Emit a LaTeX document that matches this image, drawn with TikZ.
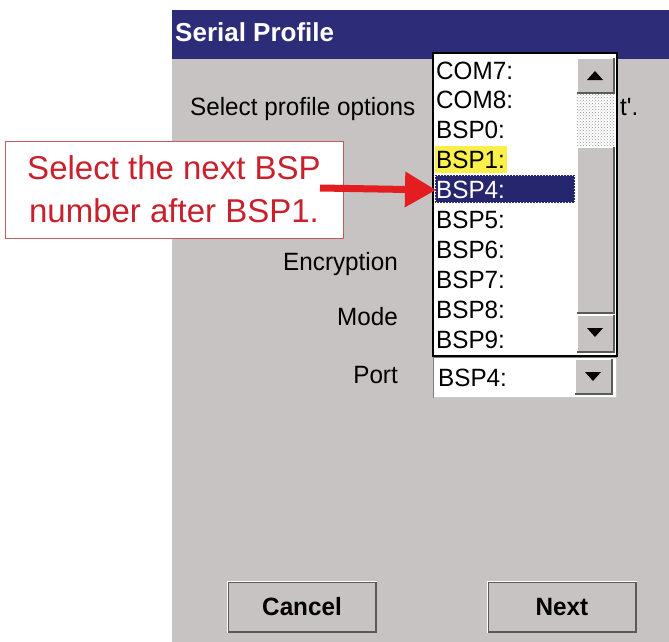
\documentclass[tikz,border=0pt]{standalone}
\usepackage{fontspec}
\usepackage{xcolor}
\usepackage{tikz}
\usetikzlibrary{arrows.meta}
\usetikzlibrary{patterns}
\usetikzlibrary{calc}

\setmainfont{Liberation Sans}
\newfontfamily\uifont[FakeStretch=0.97]{Liberation Sans}

\definecolor{screengray}{HTML}{C7C3C3}
\definecolor{titleblue}{HTML}{2C2C78}
\definecolor{selblue}{HTML}{26266E}
\definecolor{hiyellow}{HTML}{FBF04A}
\definecolor{notered}{HTML}{C8202C}
\definecolor{noteedge}{HTML}{C25A62}
\definecolor{arrowred}{HTML}{E41E20}
\definecolor{btndark}{HTML}{5A5A5A}

\tikzset{
  uitext/.style={inner sep=0pt, font=\uifont\fontsize{25}{25}\selectfont},
  listentry/.style={uitext, anchor=base west},
  fieldlabel/.style={uitext, anchor=base east},
  pushbutton/.style={draw=btndark, fill=screengray, line width=1.5pt, minimum width=148, minimum height=50,
    font=\uifont\bfseries\fontsize{25}{25}\selectfont},
  callout/.style={draw=noteedge, fill=white, line width=1pt, minimum width=338, minimum height=97,
    align=center, text=notered, font=\fontsize{33}{43}\selectfont},
}

\begin{document}
\begin{tikzpicture}[x=1pt,y=-1pt]
\useasboundingbox (0,0) rectangle (669,642);

\fill[white] (0,0) rectangle (669,642);
\fill[screengray] (172,10) rectangle (669,642);
\fill[titleblue] (172,10) rectangle (669,59);
\node[anchor=base west, inner sep=0pt, text=white, font=\bfseries\fontsize{26}{26}\selectfont] (title) at (175,42) {Serial Profile};

\node[anchor=base west, inner sep=0pt, font=\uifont\fontsize{25}{25}\selectfont] (intro) at (190,115) {Select profile options};
\node[anchor=base west, inner sep=0pt, font=\uifont\fontsize{25}{25}\selectfont] (introend) at (620,115) {t'.};

\node[fieldlabel] (encryption) at (398,270) {Encryption};
\node[fieldlabel] (mode) at (398,325) {Mode};
\node[fieldlabel] (port) at (398,383) {Port};

% drop-down list
\fill[white] (433,53) rectangle (617,356);
\fill[white] (577,93) rectangle (614,147);
\fill[pattern=crosshatch dots, pattern color=gray!80] (577,93) rectangle (614,147);
\foreach \ya/\yb in {58/93, 147/313, 315/352} {
  \fill[screengray] (577,\ya) rectangle (614,\yb);
  \draw[white, line width=1.5pt] (577,\yb) -- (577,\ya) -- (614,\ya);
  \draw[btndark, line width=1.5pt] (577,\yb) -- (614,\yb) -- (614,\ya);
}
\fill[black] (587,80) -- (603,80) -- (595,71) -- cycle;
\fill[black] (587,328) -- (603,328) -- (595,337) -- cycle;
\fill[hiyellow] (435,146) rectangle (507,173);
\fill[selblue] (435,175) rectangle (575,203);
\draw[white, dotted, line width=1pt] (435.5,175.5) rectangle (574.5,202.5);
\foreach \name/\col [count=\i] in {COM7/black,COM8/black,BSP0/black,BSP1/black,BSP4/white,BSP5/black,BSP6/black,BSP7/black,BSP8/black,BSP9/black}
  \node[listentry, text=\col] (entry\i) at (436,{79+(\i-1)*29.9}) {\name:};
\draw[black, line width=2pt] (433,53) rectangle (617,356);

% port combo box
\fill[white] (433,357) rectangle (617,398);
\draw[gray, line width=1pt] (433.5,398) -- (433.5,357.5) -- (617,357.5);
\draw[gray!40, line width=1pt] (433.5,397.5) -- (616.5,397.5) -- (616.5,357.5);
\fill[screengray] (575,359) rectangle (612,394);
\draw[white, line width=1.5pt] (575,394) -- (575,359) -- (612,359);
\draw[btndark, line width=1.5pt] (575,394) -- (612,394) -- (612,359);
\fill[black] (585,372) -- (601,372) -- (593,381) -- cycle;
\node[listentry] (portvalue) at (438,386) {BSP4:};

% buttons
\node[pushbutton] (cancel) at (302,607) {Cancel};
\node[pushbutton] (next) at (562,607) {Next};
\draw[white, line width=1.5pt] (cancel.south west) -- (cancel.north west) -- (cancel.north east);
\draw[white, line width=1.5pt] (next.south west) -- (next.north west) -- (next.north east);

% note
\node[callout] (note) at (174,189.5) {Select the next BSP\\number after BSP1.};
\coordinate (arrowtail) at (320,188);
\draw[arrowred, line width=7pt, -{Triangle[length=31pt,width=34pt]}] (arrowtail) -- (entry5.west);

\end{tikzpicture}
\end{document}
